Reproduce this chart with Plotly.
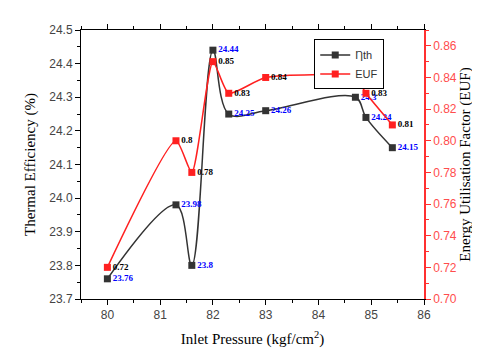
import plotly.graph_objects as go

# presion de entrada (kgf/cm2) y resultados
presion = [80.0, 81.3, 81.6, 82.0, 82.3, 83.0, 84.7, 84.9, 85.4]
eta_th = [23.76, 23.98, 23.8, 24.44, 24.25, 24.26, 24.3, 24.24, 24.15]
euf = [0.72, 0.80, 0.78, 0.85, 0.83, 0.84, 0.84, 0.83, 0.81]
eta_txt = ["23.76", "23.98", "23.8", "24.44", "24.25", "24.26", "24.3", "24.24", "24.15"]
euf_txt = ["0.72", "0.8", "0.78", "0.85", "0.83", "0.84", "0.84", "0.83", "0.81"]

fig = go.Figure()

fig.add_trace(go.Scatter(
    x=presion, y=eta_th, name="Ƞth",
    mode="lines+markers+text",
    line=dict(color="#333333", width=1.5, shape="spline", smoothing=1.0),
    marker=dict(symbol="square", size=7, color="#333333"),
    text=eta_txt, textposition="middle right",
    textfont=dict(family="Liberation Serif", size=9, color="#0000ff", weight="bold"),
))

fig.add_trace(go.Scatter(
    x=presion, y=euf, name="EUF", yaxis="y2",
    mode="lines+markers+text",
    line=dict(color="#ff2020", width=1.5, shape="spline", smoothing=0.6),
    marker=dict(symbol="square", size=7, color="#ff2020"),
    text=euf_txt, textposition="middle right",
    textfont=dict(family="Liberation Serif", size=9, color="black", weight="bold"),
))

titulo = dict(family="Liberation Serif", size=15, color="black")

fig.update_layout(
    width=480, height=349,
    margin=dict(l=73, r=64, t=22, b=51),
    plot_bgcolor="white", paper_bgcolor="white",
    font=dict(family="Liberation Sans", size=12, color="#444444"),
    showlegend=True,
    legend=dict(x=0.68, y=0.965, xanchor="left", yanchor="top",
                bordercolor="black", borderwidth=1, bgcolor="white",
                font=dict(family="Liberation Sans", size=11, color="#333333"),
                tracegroupgap=0, itemwidth=30),
    xaxis=dict(
        range=[79.5, 86], dtick=1, showgrid=False, zeroline=False,
        showline=True, linecolor="black", linewidth=1, mirror="ticks",
        ticks="outside", ticklen=5, tickcolor="black",
        minor=dict(ticks="outside", ticklen=3, dtick=0.5, tickcolor="black"),
        title=dict(text="Inlet Pressure (kgf/cm<sup>2</sup>)", font=titulo, standoff=12),
    ),
    yaxis=dict(
        range=[23.7, 24.5], dtick=0.1, tickformat=".1f", showgrid=False, zeroline=False,
        showline=True, linecolor="black", linewidth=1,
        ticks="outside", ticklen=5, tickcolor="black",
        minor=dict(ticks="outside", ticklen=3, dtick=0.05, tickcolor="black"),
        title=dict(text="Thermal Efficiency (%)", font=titulo, standoff=9),
    ),
    yaxis2=dict(
        range=[0.70, 0.87], dtick=0.02, tick0=0.70, tickformat=".2f",
        overlaying="y", side="right", showgrid=False, zeroline=False,
        showline=True, linecolor="#ff3030", linewidth=1.5,
        ticks="outside", ticklen=5, tickcolor="#ff3030",
        tickfont=dict(color="#ff4d4d"),
        minor=dict(ticks="outside", ticklen=3, dtick=0.01, tickcolor="#ff3030"),
        title=dict(text="Energy Utilisation Factor (EUF)", font=titulo, standoff=2),
    ),
)

fig.write_html("out.html")
